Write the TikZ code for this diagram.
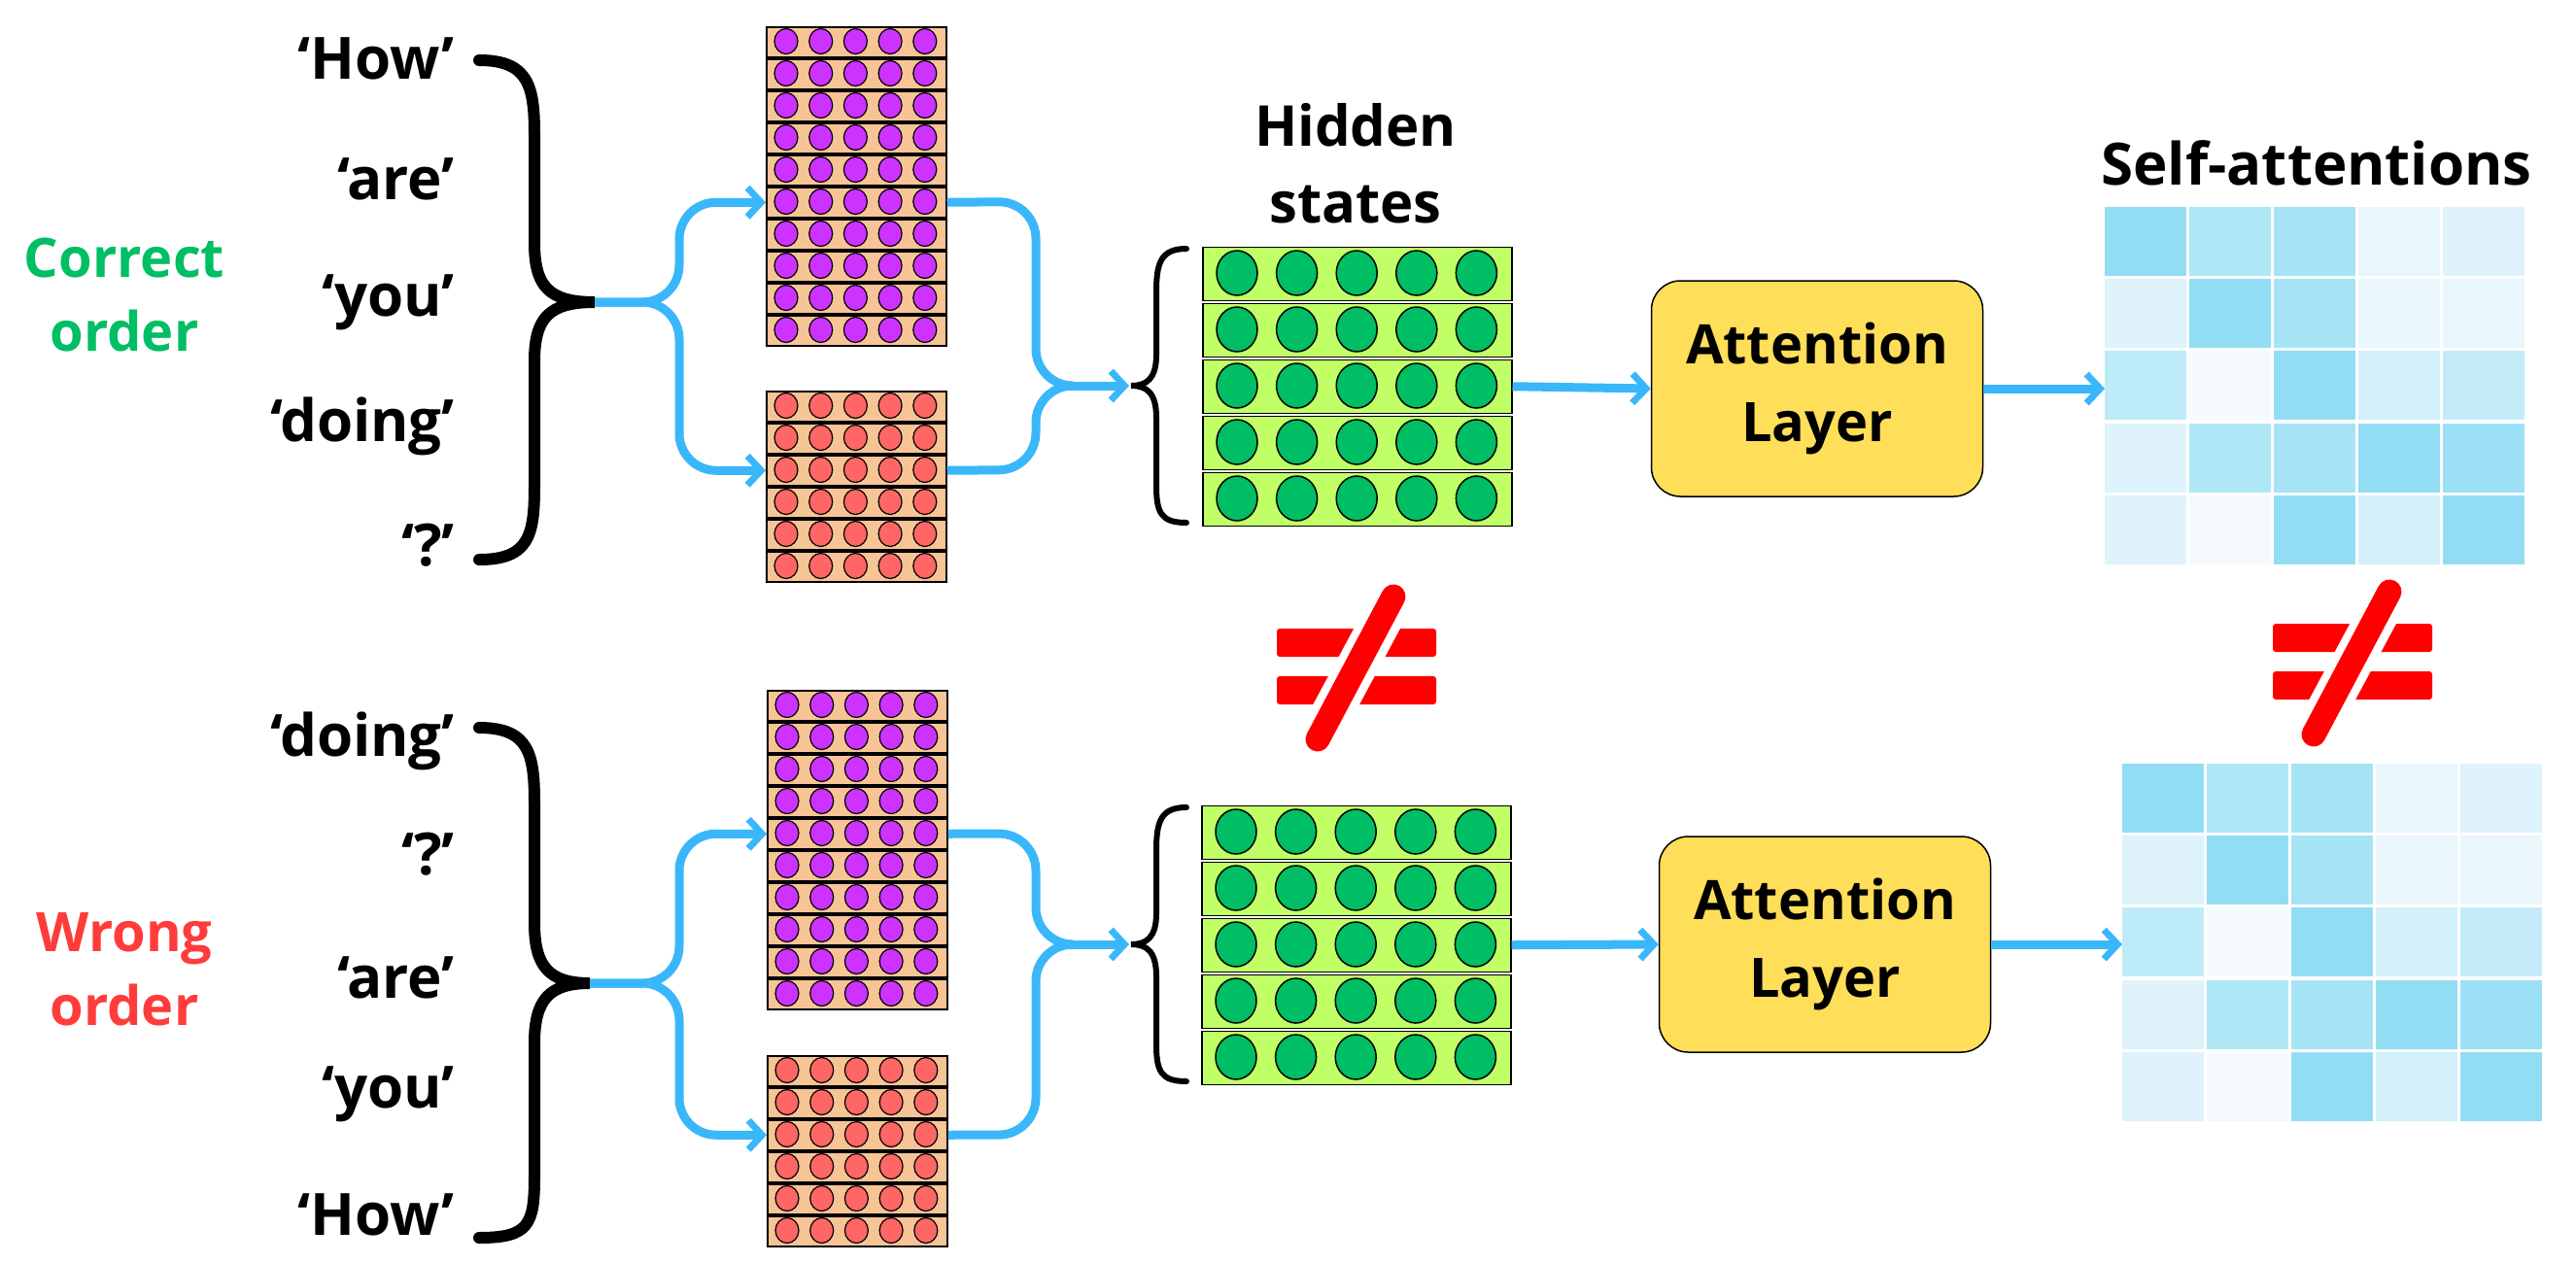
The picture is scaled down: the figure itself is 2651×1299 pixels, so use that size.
\documentclass[tikz,border=0pt]{standalone}
\usepackage{fontspec}
\setmainfont{Open Sans}
\usetikzlibrary{arrows.meta}
\definecolor{blu}{RGB}{58,183,250}
\definecolor{salm}{RGB}{247,196,150}
\definecolor{purp}{RGB}{204,51,255}
\definecolor{redc}{RGB}{255,102,102}
\definecolor{lgreen}{RGB}{192,255,102}
\definecolor{dgreen}{RGB}{0,190,100}
\definecolor{yel}{RGB}{255,222,89}
\definecolor{wrong}{RGB}{255,60,60}
\definecolor{neq}{RGB}{255,0,0}
\definecolor{m1}{RGB}{146,221,243}
\definecolor{m2}{RGB}{175,231,247}
\definecolor{m3}{RGB}{166,228,245}
\definecolor{m4}{RGB}{233,247,252}
\definecolor{m5}{RGB}{222,243,251}
\definecolor{m6}{RGB}{190,235,248}
\definecolor{m7}{RGB}{244,250,253}
\definecolor{m8}{RGB}{210,241,250}
\definecolor{m9}{RGB}{196,236,248}
\definecolor{m10}{RGB}{155,224,245}
\newcommand{\vblock}[6]{% x, ytop, rows, circle colour, name, bg
  \foreach \k in {1,...,#3}{
    \node[draw=black, line width=1.5pt, fill=#6, minimum width=185pt, minimum height=31pt, inner sep=0pt, anchor=north west] (#5-\k) at (#1,{#2+33*(\k-1)+1}) {};
    \foreach \j in {0,...,4}{
      \draw[fill=#4, line width=1.2pt] ({#1+21+35.7*\j},{#2+33*(\k-1)+16.5}) ellipse[x radius=12pt, y radius=13pt];
    }
  }
}
\newcommand{\gblock}[3]{% x, ytop, name
  \foreach \k in {1,...,5}{
    \node[draw=black, line width=1.5pt, fill=lgreen, minimum width=318pt, minimum height=55pt, inner sep=0pt, anchor=north west] (#3-\k) at (#1,{#2+58*(\k-1)+1.5}) {};
    \foreach \j in {0,...,4}{
      \draw[fill=dgreen, line width=1.5pt] ({#1+36+61.6*\j},{#2+58*(\k-1)+29}) ellipse[x radius=21pt, y radius=23pt];
    }
  }
}
\newcommand{\attmatrix}[2]{%
  \foreach \r/\row in {0/{m1,m2,m3,m4,m5},1/{m5,m1,m3,m4,m4},2/{m6,m7,m1,m8,m9},3/{m5,m2,m3,m1,m10},4/{m5,m7,m1,m8,m1}}{
    \foreach \c [count=\ci from 0] in \row {
      \fill[\c] ({#1+87*\ci},{#2+74.2*\r}) rectangle ++(84,71);
    }
  }
}
\newcommand{\neqsign}[2]{% centre
  \begin{scope}[shift={(#1,#2)}]
    \fill[neq, rounded corners=3pt] (-82,-39) rectangle (82,-10);
    \fill[neq, rounded corners=3pt] (-82,10) rectangle (82,39);
    \draw[white, line width=42pt] (-46,86) -- (42,-78);
    \draw[neq, line width=25pt, line cap=round] (-40,75) -- (38,-72);
  \end{scope}
}
\tikzset{
  word/.style={font=\bfseries\fontsize{60}{72}\selectfont, anchor=east, inner sep=0pt},
  lab/.style={font=\bfseries\fontsize{56}{76}\selectfont, align=center, inner sep=0pt},
  flow/.style={blu, line width=9pt, rounded corners=38pt},
  arr/.style={flow, -{Straight Barb[length=14pt, width=30pt, line width=7pt]}},
  bigbrace/.style={line width=12pt, line cap=round},
  smallbrace/.style={line width=6pt, line cap=round},
  att/.style={draw=black, line width=1.5pt, fill=yel, rounded corners=30pt, minimum width=341pt, minimum height=222pt, align=center, font=\bfseries\fontsize{56}{80}\selectfont}
}
\begin{document}
\begin{tikzpicture}[x=1pt,y=-1pt]
\useasboundingbox (0,0) rectangle (2651,1299);
% ---------- TOP ----------
\foreach \w/\y [count=\i] in {‘How’/60,‘are’/184,‘you’/311,‘doing’/439,‘?’/561}
  \node[word] (tw\i) at (468,\y) {\w};
\node[lab, text=dgreen] (corr) at (128,303) {Correct\\order};
\draw[bigbrace] (493,62) .. controls (545,62) and (550,90) .. (550,140) -- (550,250) .. controls (550,295) and (565,311) .. (612,311)
  .. controls (565,311) and (550,327) .. (550,372) -- (550,500) .. controls (550,550) and (545,576) .. (493,576);
\coordinate (tsplit) at (612,311);
\vblock{788}{26}{10}{purp}{tp}{salm}
\vblock{788}{401}{6}{redc}{tr}{salm}
\draw[arr] (tsplit) -- (699,311) |- (tp-6.west);
\draw[arr] (tsplit) -- (699,311) |- (tr-3.west);
\gblock{1237}{252}{tg}
\draw[smallbrace] (1221,256) .. controls (1195,256) and (1190,270) .. (1190,300) -- (1190,365) .. controls (1190,390) and (1180,397) .. (1164,397)
  .. controls (1180,397) and (1190,404) .. (1190,430) -- (1190,500) .. controls (1190,528) and (1195,538) .. (1221,538);
\coordinate (tgtip) at (1162,397);
\draw[flow] (tp-6.east) -- (1066,207.5) -- (1066,397) -- (1100,397);
\draw[flow] (tr-3.east) -- (1066,483.5) -- (1066,397) -- (1100,397);
\draw[arr] (1090,397) -- (tgtip);
\node[lab, font=\bfseries\fontsize{58}{79}\selectfont] (hid) at (1395,168) {Hidden\\states};
\node[att] (tatt) at (1870,400) {Attention\\Layer};
\draw[arr] (tg-3.east) -- (tatt.west);
\attmatrix{2166}{213}
\coordinate (tm) at (2166,400);
\node[lab, font=\bfseries\fontsize{60}{72}\selectfont] (self) at (2384,168) {Self-attentions};
\draw[arr] (tatt.east) -- (tm);
% ---------- BOTTOM ----------
\foreach \w/\y [count=\i] in {‘doing’/763,‘?’/879,‘are’/1006,‘you’/1126,‘How’/1250}
  \node[word] (bw\i) at (468,\y) {\w};
\node[lab, text=wrong] (wrg) at (128,998) {Wrong\\order};
\draw[bigbrace] (493,749) .. controls (545,749) and (550,777) .. (550,827) -- (550,950) .. controls (550,995) and (565,1012) .. (607,1012)
  .. controls (565,1012) and (550,1029) .. (550,1074) -- (550,1210) .. controls (550,1260) and (545,1274) .. (493,1274);
\coordinate (bsplit) at (607,1012);
\vblock{789}{709}{10}{purp}{bp}{salm}
\vblock{789}{1085}{6}{redc}{br}{salm}
\draw[arr] (bsplit) -- (699,1012) |- (bp-5.west);
\draw[arr] (bsplit) -- (699,1012) |- (br-3.west);
\gblock{1236}{827}{bg}
\draw[smallbrace] (1221,831) .. controls (1195,831) and (1190,845) .. (1190,875) -- (1190,940) .. controls (1190,965) and (1180,972) .. (1164,972)
  .. controls (1180,972) and (1190,979) .. (1190,1005) -- (1190,1075) .. controls (1190,1103) and (1195,1113) .. (1221,1113);
\coordinate (bgtip) at (1162,972);
\draw[flow] (bp-5.east) -- (1066,858) -- (1066,972) -- (1100,972);
\draw[flow] (br-3.east) -- (1066,1168) -- (1066,972) -- (1100,972);
\draw[arr] (1090,972) -- (bgtip);
\node[att] (batt) at (1878,972) {Attention\\Layer};
\draw[arr] (bg-3.east) -- (batt.west);
\attmatrix{2184}{786}
\coordinate (bm) at (2184,972);
\draw[arr] (batt.east) -- (bm);
% ---------- not-equal signs ----------
\neqsign{1396}{686}
\neqsign{2421}{681}
\end{tikzpicture}
\end{document}
